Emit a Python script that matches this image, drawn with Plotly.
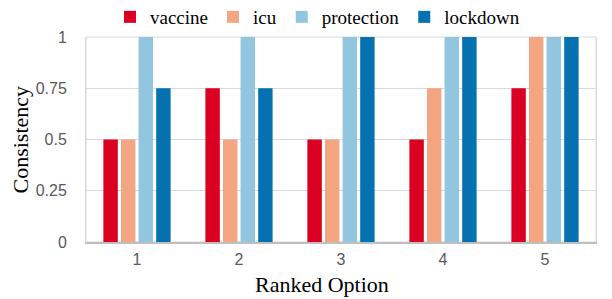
import plotly.graph_objects as go

categories = ["1", "2", "3", "4", "5"]
vaccine = [0.5, 0.75, 0.5, 0.5, 0.75]
icu = [0.5, 0.5, 0.5, 0.75, 1]
protection = [1, 1, 1, 1, 1]
lockdown = [0.75, 0.75, 1, 1, 1]
y_ticks = [0, 0.25, 0.5, 0.75, 1]
y_labels = ["0", "0.25", "0.5", "0.75", "1"]

series = [
    ("vaccine", vaccine, "#db0021"),
    ("icu", icu, "#f4a582"),
    ("protection", protection, "#92c5de"),
    ("lockdown", lockdown, "#0571b0"),
]

fig = go.Figure()
for name, vals, col in series:
    fig.add_trace(go.Bar(x=categories, y=vals, name=name, marker=dict(color=col, line=dict(width=0))))

serif = "Liberation Serif"
sans = "Liberation Sans"

W, H = 612, 299
L, R, T, B = 86, 16, 37, 57
PW, PH = W - L - R, H - T - B

fig.update_layout(
    width=W, height=H,
    margin=dict(l=L, r=R, t=T, b=B, autoexpand=False),
    paper_bgcolor="white", plot_bgcolor="white",
    barmode="group", bargap=0.31, bargroupgap=0.18,
    showlegend=True,
    legend=dict(orientation="h", xref="container", yref="container",
                x=110 / W, xanchor="left", y=1 - 17 / H, yanchor="middle",
                font=dict(family=serif, size=19, color="#000000"),
                itemwidth=30, traceorder="normal", bgcolor="rgba(0,0,0,0)"),
    font=dict(family=sans, size=16, color="#595959"),
)
fig.update_xaxes(
    type="category", showline=True, linecolor="#bfbfbf", linewidth=2, mirror=False,
    ticks="", ticklabelstandoff=2, automargin=False,
    tickfont=dict(family=sans, size=16, color="#595959"),
)
fig.update_yaxes(
    range=[0, 1], tickvals=y_ticks, ticktext=y_labels,
    showgrid=True, gridcolor="#d9d9d9", gridwidth=1,
    showline=True, linecolor="#d9d9d9", linewidth=1, mirror=True,
    zeroline=False, ticks="", ticklabelstandoff=15, automargin=False,
    tickfont=dict(family=sans, size=16, color="#595959"),
)
fig.add_shape(type="rect", xref="paper", yref="paper", x0=0, y0=0, x1=1, y1=1,
              line=dict(color="#d9d9d9", width=1), layer="below")

fig.add_annotation(text="Ranked Option", xref="paper", yref="paper",
                   x=(322 - L) / PW, y=(H - B - 284) / PH, xanchor="center", yanchor="middle",
                   showarrow=False, font=dict(family=serif, size=22, color="#000000"))
fig.add_annotation(text="Consistency", xref="paper", yref="paper",
                   x=(20 - L) / PW, y=0.5, xanchor="center", yanchor="middle", textangle=-90,
                   showarrow=False, font=dict(family=serif, size=22, color="#000000"))

fig.write_html("out.html", config={"displayModeBar": False},
               post_script="document.body.style.margin='0';")
